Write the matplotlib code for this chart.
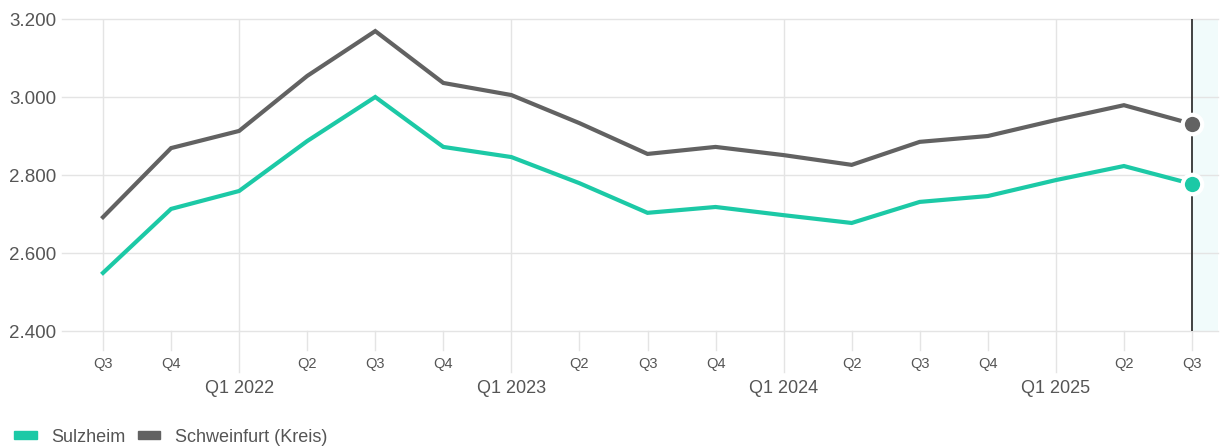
import numpy as np
import matplotlib.pyplot as plt
from matplotlib.patches import Patch

plt.rcParams['font.family'] = ['Liberation Sans', 'DejaVu Sans']

# quarters from Q3 2021 to Q3 2025
quarters = ['Q3', 'Q4', 'Q1 2022', 'Q2', 'Q3', 'Q4', 'Q1 2023', 'Q2', 'Q3', 'Q4',
            'Q1 2024', 'Q2', 'Q3', 'Q4', 'Q1 2025', 'Q2', 'Q3']
sulzheim = [2549, 2713, 2759, 2887, 3000, 2872, 2846, 2779, 2703, 2718,
            2697, 2677, 2731, 2746, 2787, 2823, 2777]
schweinfurt = [2692, 2869, 2913, 3054, 3169, 3036, 3005, 2933, 2854, 2872,
               2851, 2826, 2885, 2900, 2941, 2979, 2931]
yticks = [2400, 2600, 2800, 3000, 3200]

teal = '#1cc9a6'
dark = '#626262'
grid = '#e4e4e4'
W, H = 1222, 446

fig = plt.figure(figsize=(W / 100, H / 100), dpi=100)
ax = fig.add_axes([62 / W, 1 - 331 / H, (1218 - 62) / W, (331 - 19) / H])

x = np.arange(len(quarters))
step = 68.06
ax.set_xlim(-(103 - 62) / step, x[-1] + (1218 - 1192) / step)
ax.set_ylim(2400, 3200)

# shaded area right of the hover line
ax.axvspan(x[-1], ax.get_xlim()[1], color='#f1fbfb', zorder=0, lw=0)

for s in ax.spines.values():
    s.set_visible(False)

ax.set_yticks(yticks)
ax.set_yticklabels([f'{v:,}'.replace(',', '.') for v in yticks])
ax.tick_params(axis='y', length=0, pad=4, labelsize=13.5, labelcolor='#555555')
for v in yticks:
    ax.axhline(v, color=grid, lw=1, zorder=1, clip_on=False)
ax.set_xticks([])

# vertical grid lines at Q1 and left edge, small ticks for other quarters
xt = ax.get_xaxis_transform()
for i, q in enumerate(quarters):
    if q.startswith('Q1'):
        ax.axvline(i, color=grid, lw=1, zorder=1)
        ax.plot([i, i], [0, -0.131], transform=xt, color=grid, lw=1, clip_on=False)
        ax.text(i, -0.183, q, transform=xt, ha='center', va='center',
                fontsize=13, color='#555555')
    else:
        ax.plot([i, i], [0, -0.061], transform=xt, color=grid, lw=1, clip_on=False)
        ax.text(i, -0.106, q, transform=xt, ha='center', va='center',
                fontsize=10.5, color='#555555')
ax.axvline(0, color=grid, lw=1, zorder=1)

ax.plot(x, schweinfurt, color=dark, lw=3, zorder=3, solid_joinstyle='miter', clip_on=False)
ax.plot(x, sulzheim, color=teal, lw=3, zorder=3, solid_joinstyle='miter', clip_on=False)

ax.axvline(x[-1], color='#333333', lw=1.3, zorder=4)
ax.plot(x[-1], schweinfurt[-1], 'o', ms=14, color=dark, mec='white', mew=3, zorder=5, clip_on=False)
ax.plot(x[-1], sulzheim[-1], 'o', ms=14, color=teal, mec='white', mew=3, zorder=5, clip_on=False)

handles = [Patch(color=teal, label='Sulzheim'), Patch(color=dark, label='Schweinfurt (Kreis)')]
fig.legend(handles=handles, loc='center left', bbox_to_anchor=(14 / W, 1 - 437 / H),
           ncol=2, frameon=False, fontsize=13, handlelength=1.25, handleheight=0.38,
           handletextpad=0.8, columnspacing=0.7, borderpad=0, borderaxespad=0,
           labelcolor='#555555')

fig.savefig('out.png', dpi=100)
